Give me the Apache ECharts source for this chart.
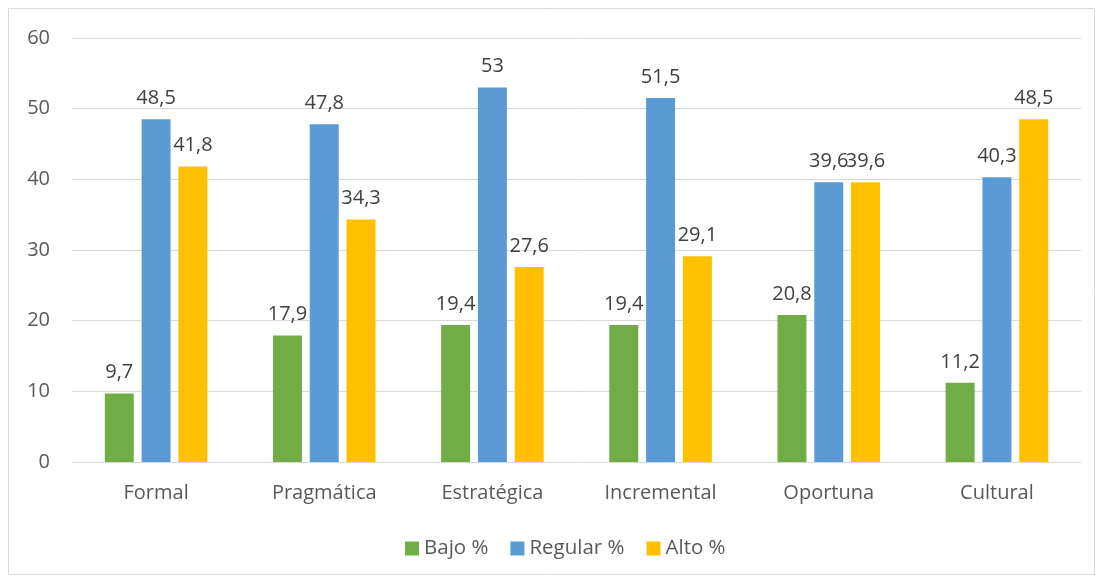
<!DOCTYPE html>
<html><head><meta charset="utf-8">
<script src="https://cdn.jsdelivr.net/npm/echarts@6/dist/echarts.min.js"></script>
<style>html,body{margin:0;padding:0;background:#fff}#c{width:1099px;height:580px}</style>
</head><body><div id="c"></div>
<script>
const categories = ['Formal','Pragmática','Estratégica','Incremental','Oportuna','Cultural'];
const bajo = [9.7, 17.9, 19.4, 19.4, 20.8, 11.2];
const regular = [48.5, 47.8, 53, 51.5, 39.6, 40.3];
const alto = [41.8, 34.3, 27.6, 29.1, 39.6, 48.5];
const seriesNames = ['Bajo %','Regular %','Alto %'];
const colors = ['#70AD47','#5B9BD5','#FFC000'];

const FONT = '"Open Sans", "Liberation Sans", sans-serif';
const chart = echarts.init(document.getElementById('c'));
const label = {show:true, position:'top', distance:11, color:'#404040', fontSize:20, fontFamily:FONT,
  formatter: p => String(p.value).replace('.', ',')};
chart.setOption({
  animation:false,
  textStyle:{fontFamily:FONT},
  graphic:[{type:'rect', shape:{x:8.5,y:8.5,width:1086,height:566}, style:{fill:null, stroke:'#D9D9D9', lineWidth:1}, silent:true}],
  grid:{left:72, right:18, top:38, bottom:118, containLabel:false},
  legend:{bottom:16, left:400, itemWidth:14, itemHeight:14, itemGap:22, icon:'rect',
    textStyle:{color:'#595959', fontSize:20.5, fontFamily:FONT}, data:seriesNames},
  xAxis:{type:'category', data:categories,
    axisLine:{show:true, lineStyle:{color:'#D9D9D9', width:1}}, axisTick:{show:false},
    axisLabel:{color:'#595959', fontSize:20, fontFamily:FONT, margin:21}},
  yAxis:{type:'value', min:0, max:60, interval:10,
    axisLine:{show:false}, axisTick:{show:false},
    splitLine:{lineStyle:{color:'#D9D9D9', width:1}},
    axisLabel:{color:'#595959', fontSize:20, fontFamily:FONT, margin:22}},
  series:[
    {name:seriesNames[0], type:'bar', data:bajo, itemStyle:{color:colors[0]}, label:label, barGap:'27%', barCategoryGap:'39%'},
    {name:seriesNames[1], type:'bar', data:regular, itemStyle:{color:colors[1]}, label:label, barGap:'27%', barCategoryGap:'39%'},
    {name:seriesNames[2], type:'bar', data:alto, itemStyle:{color:colors[2]}, label:label, barGap:'27%', barCategoryGap:'39%'}
  ]
});
</script></body></html>
